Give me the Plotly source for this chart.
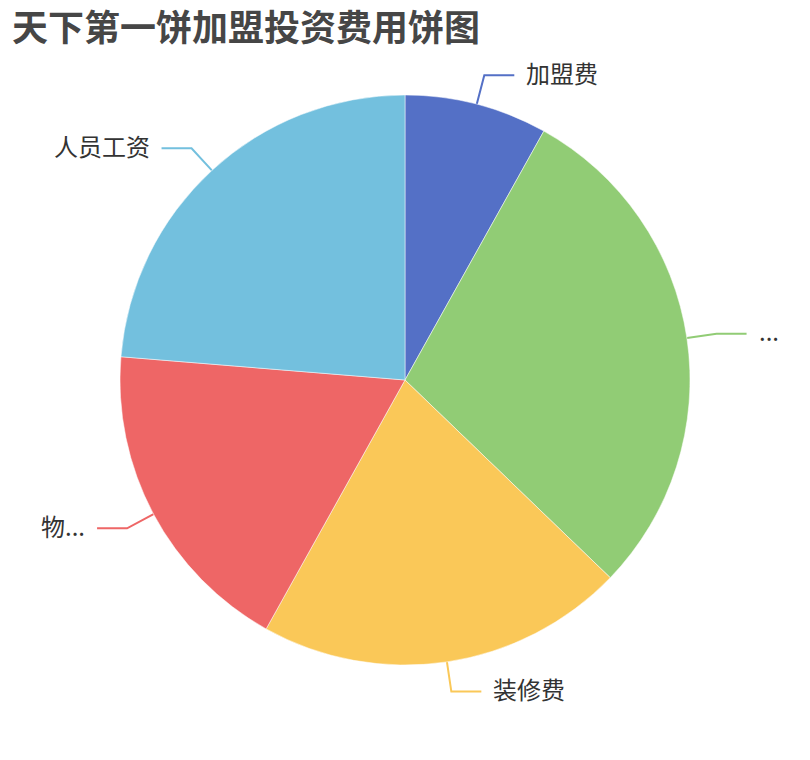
import numpy as np
import plotly.graph_objects as go

# data (share of total, %)
names = ["加盟费", "...", "装修费", "物...", "人员工资"]
values = [8.1, 29.1, 20.9, 18.2, 23.7]
colors = ["#5470c6", "#91cc75", "#fac858", "#ee6666", "#73c0de"]

W, H = 810, 760
cx, cy, r = 405, 380, 285      # pie centre and radius in pixels
len1, len2, gap = 30, 30, 10   # leader line segments

fig = go.Figure()

# pie placed by its domain so its centre / radius match the pixel layout
fig.add_trace(go.Pie(
    labels=names, values=values, sort=False, direction="clockwise", rotation=0,
    marker=dict(colors=colors, line=dict(color="white", width=0.5)),
    textinfo="none", hoverinfo="label+percent", showlegend=False,
    domain=dict(x=[(cx - r) / W, (cx + r) / W], y=[1 - (cy + r) / H, 1 - (cy - r) / H]),
))

# leader lines and labels, from each slice's mid angle
vals = np.array(values, dtype=float)
cum = np.cumsum(vals) / vals.sum() * 2 * np.pi
mid = cum - vals / vals.sum() * np.pi
for name, a, c in zip(names, mid, colors):
    sx, sy = cx + r * np.sin(a), cy - r * np.cos(a)
    ex, ey = cx + (r + len1) * np.sin(a), cy - (r + len1) * np.cos(a)
    side = 1 if np.sin(a) >= 0 else -1
    hx = ex + side * len2
    fig.add_trace(go.Scatter(
        x=[sx, ex, hx], y=[sy, ey, ey], mode="lines",
        line=dict(color=c, width=2), hoverinfo="skip", showlegend=False,
    ))
    fig.add_annotation(
        x=hx + side * gap, y=ey, xref="x", yref="y", text=name, showarrow=False,
        xanchor="left" if side > 0 else "right", yanchor="middle", yshift=3,
        font=dict(size=24, color="#333333", family="Noto Sans CJK SC"),
    )

fig.add_annotation(
    x=10, y=25, xref="x", yref="y", text="<b>天下第一饼加盟投资费用饼图</b>",
    showarrow=False, xanchor="left", yanchor="middle",
    font=dict(size=36, color="#464646", family="Noto Sans CJK SC"),
)

fig.update_layout(
    width=W, height=H, margin=dict(l=0, r=0, t=0, b=0),
    paper_bgcolor="white", plot_bgcolor="white",
    xaxis=dict(range=[0, W], visible=False, fixedrange=True),
    yaxis=dict(range=[H, 0], visible=False, fixedrange=True),
)

# drop the page's default body margin so the figure sits at the window corner
fig.write_html("out.html", config={"displayModeBar": False},
               post_script="document.body.style.margin='0';")
